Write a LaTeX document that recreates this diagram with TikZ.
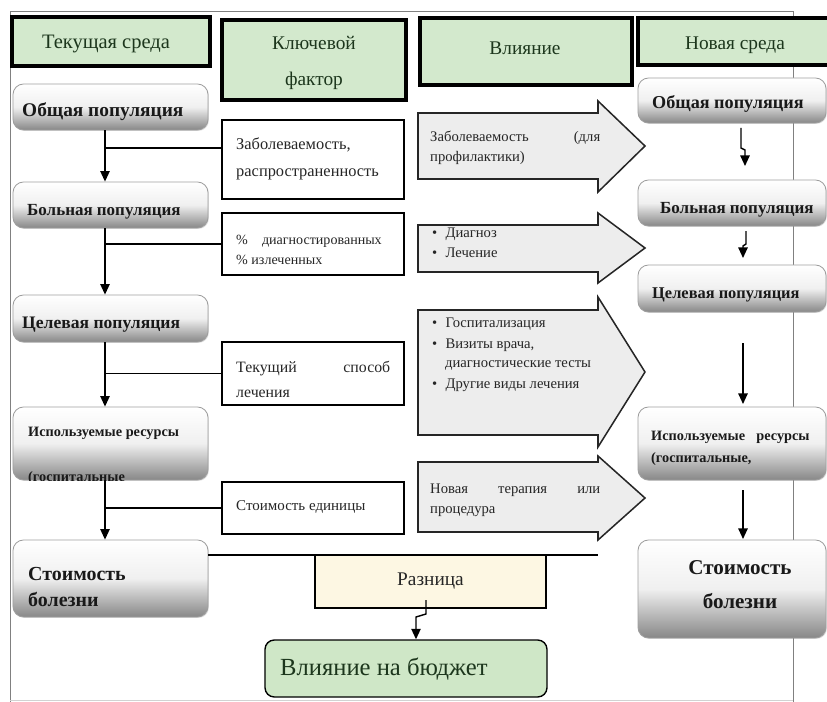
\documentclass[tikz,border=0pt]{standalone}
\usepackage{fontspec}
\setmainfont{Liberation Serif}
\usetikzlibrary{arrows.meta,shadows}
\definecolor{hdrgreen}{HTML}{D3E9CD}
\definecolor{hdrtext}{HTML}{1C361C}
\definecolor{arrfill}{HTML}{EDEDED}
\definecolor{diffill}{HTML}{FDF7E3}
\definecolor{budgreen}{HTML}{CFE7C7}
\definecolor{framegray}{HTML}{808080}
\newcommand\fsz[2]{\fontsize{#1}{#2}\selectfont}
\tikzset{
  hdr/.style={draw=black, line width=3.8pt, fill=hdrgreen, inner sep=0pt},
  hdrtxt/.style={inner sep=0pt, text=hdrtext, align=center, font=\fsz{16.5}{30}},
  popbox/.style={draw=gray!75, line width=0.7pt, rounded corners=9pt, top color=white, bottom color=black!47, middle color=white!94!black,
     drop shadow={opacity=0.25, shadow xshift=0.8pt, shadow yshift=-0.8pt}},
  poptext/.style={inner sep=0pt, text=black!90, font=\bfseries\fsz{15.5}{19}},
  keybox/.style={draw=black, line width=1.2pt, fill=white},
  keytext/.style={inner sep=0pt, text width=4.62cm, align=justify, text=black!85},
  impshape/.style={draw=black!85, line width=1.3pt, fill=arrfill, line join=miter},
  imptext/.style={inner sep=0pt, align=left, text=black!85, font=\fsz{12.5}{17}},
  flow/.style={line width=1.2pt, -{Triangle[width=8pt,length=9pt]}},
  branch/.style={line width=1.2pt},
  frameline/.style={draw=framegray, line width=0.8pt},
}
\begin{document}
\begin{tikzpicture}[x=0.03cm,y=-0.03cm]
\useasboundingbox (0,0) rectangle (827,702);
% frame
\coordinate (fTL) at (10,11);
\coordinate (fTR) at (793,11);
\coordinate (fBL) at (10,702);
\coordinate (fBR) at (793,702);
\coordinate (fbl) at (10,700);
\coordinate (fbr) at (793,700);
\draw[frameline] (fBL) -- (fTL) -- (fTR) -- (fBR);
\draw[frameline, draw=gray!35] (fbl) -- (fbr);

% headers
\node[hdr, minimum width=5.94cm, minimum height=1.47cm] (H1) at (111,41.5) {};
\node[hdr, minimum width=5.52cm, minimum height=2.4cm] (H2) at (314,60) {};
\node[hdr, minimum width=6.36cm, minimum height=2.01cm] (H3) at (526,51.5) {};
\node[hdr, minimum width=5.76cm, minimum height=1.41cm] (H4) at (734,41.5) {};
\node[hdrtxt, font=\fsz{17.5}{30}] (H1t) at (106,44) {Текущая среда};
\node[hdrtxt] (H2t) at (314,63) {Ключевой\\фактор};
\node[hdrtxt] (H3t) at (525,48) {Влияние};
\node[hdrtxt] (H4t) at (735,45) {Новая среда};

% left column boxes
\node[popbox, minimum width=5.85cm, minimum height=1.38cm] (L1) at (110.5,107) {};
\node[popbox, minimum width=5.85cm, minimum height=1.38cm] (L2) at (110.5,205) {};
\node[popbox, minimum width=5.85cm, minimum height=1.41cm] (L3) at (110.5,318.5) {};
\node[popbox, minimum width=5.85cm, minimum height=2.19cm] (L4) at (110.5,443.5) {};
\node[popbox, minimum width=5.85cm, minimum height=2.31cm] (L5) at (110.5,578.5) {};
\node[poptext, anchor=west, font=\bfseries\fsz{16.5}{19}] (L1t) at (22,112) {Общая популяция};
\node[poptext, anchor=west, font=\bfseries\fsz{14.5}{19}] (L2t) at (27,212) {Больная популяция};
\node[poptext, anchor=west, font=\bfseries\fsz{15}{19}] (L3t) at (22,325) {Целевая популяция};
\node[poptext, anchor=west, font=\bfseries\fsz{12.2}{17}] (L4t) at (28,433) {Используемые ресурсы};
\begin{scope}
  \clip[rounded corners=9pt] (L4.north west) rectangle (L4.south east);
  \node[poptext, anchor=base west, font=\bfseries\fsz{12.2}{17}] (L4u) at (28,481) {(госпитальные};
\end{scope}
\node[poptext, anchor=west, align=left, font=\bfseries\fsz{17}{23}] (L5t) at (28,587) {Стоимость\\болезни};

% key factor boxes
\node[keybox, minimum width=5.46cm, minimum height=2.37cm] (K1) at (313,159.5) {};
\node[keybox, minimum width=5.46cm, minimum height=1.86cm] (K2) at (313,244) {};
\node[keybox, minimum width=5.46cm, minimum height=1.89cm] (K3) at (313,373.5) {};
\node[keybox, minimum width=5.46cm, minimum height=1.56cm] (K4) at (313,508) {};
\node[keytext, anchor=west, font=\fsz{14}{23}] (K1t) at (236,158.5) {Заболеваемость,\linebreak распространенность};
\node[keytext, anchor=west, font=\fsz{12}{17}] (K2t) at (236,250) {\%\quad диагностированных\linebreak \% излеченных};
\node[keytext, anchor=west, font=\fsz{13.5}{21}] (K3t) at (236,379.5) {Текущий способ\linebreak лечения};
\node[keytext, anchor=west, font=\fsz{12.8}{17}] (K4t) at (236,507) {Стоимость единицы};

% left column flow
\coordinate (colL) at (105,0);
\coordinate (b1) at (222,148);
\draw[flow] (L1.south -| colL) -- (L2.north -| colL);
\draw[flow] (L2.south -| colL) -- (L3.north -| colL);
\draw[flow] (L3.south -| colL) -- (L4.north -| colL);
\draw[flow] (L4.south -| colL) -- (L5.north -| colL);
\draw[branch] (colL |- b1) -- (b1);
\draw[branch] (colL |- K2.west) -- (K2.west);
\draw[branch] (colL |- K3.west) -- (K3.west);
\draw[branch] (colL |- K4.west) -- (K4.west);

% impact arrows
\draw[impshape] (418,113) -- (598,113) -- (598,101) -- (645,146) -- (598,192) -- (598,179) -- (418,179) -- cycle;
\draw[impshape] (418,225) -- (598,225) -- (598,213) -- (645,248) -- (598,283) -- (598,272) -- (418,272) -- cycle;
\draw[impshape] (418,310) -- (598,310) -- (598,297) -- (645,372) -- (598,447) -- (598,435) -- (418,435) -- cycle;
\draw[impshape] (418,462) -- (598,462) -- (598,456) -- (645,498) -- (598,540) -- (598,532) -- (418,532) -- cycle;
\node[imptext, anchor=west, text width=5.1cm, align=justify] (A1t) at (430,148) {Заболеваемость (для\linebreak профилактики)};
\node[imptext, anchor=west] (A2t) at (432,243) {\textbullet\hspace{7pt}Диагноз\\\textbullet\hspace{7pt}Лечение};
\node[imptext, anchor=west, font=\fsz{12.5}{16}] (A3t) at (432,355) {\textbullet\hspace{7pt}Госпитализация\\[2pt]\textbullet\hspace{7pt}Визиты врача,\\\hspace{11pt}диагностические тесты\\[2pt]\textbullet\hspace{7pt}Другие виды лечения};
\node[imptext, anchor=west, text width=5.1cm, align=justify] (A4t) at (430,500) {Новая терапия или\linebreak процедура};

% right column boxes
\node[popbox, minimum width=5.64cm, minimum height=1.35cm] (R1) at (732,100.5) {};
\node[popbox, minimum width=5.64cm, minimum height=1.38cm] (R2) at (732,203) {};
\node[popbox, minimum width=5.64cm, minimum height=1.41cm] (R3) at (732,288.5) {};
\node[popbox, minimum width=5.64cm, minimum height=2.19cm] (R4) at (732,443.5) {};
\node[popbox, minimum width=5.64cm, minimum height=2.94cm] (R5) at (732,589) {};
\node[poptext, anchor=west] (R1t) at (652,104) {Общая популяция};
\node[poptext, anchor=west, font=\bfseries\fsz{14.5}{19}] (R2t) at (660,210) {Больная популяция};
\node[poptext, anchor=west, font=\bfseries\fsz{14}{19}] (R3t) at (652,295) {Целевая популяция};
\node[poptext, anchor=west, text width=4.75cm, align=justify, font=\bfseries\fsz{12.2}{19}] (R4t) at (651,448) {Используемые ресурсы\linebreak (госпитальные,};
\node[poptext, align=center, font=\bfseries\fsz{18}{29}] (R5t) at (740,585) {Стоимость\\болезни};

% right column flow
\coordinate (r1a) at (741,128);
\coordinate (r1b) at (741,148);
\coordinate (r1c) at (745,150);
\coordinate (r1d) at (745,166);
\coordinate (r2a) at (746,231);
\coordinate (r2b) at (746,244);
\coordinate (r2c) at (743,246);
\coordinate (r2d) at (743,258);
\coordinate (r3a) at (743,343);
\coordinate (r3b) at (743,404);
\coordinate (r4a) at (743,490);
\coordinate (r4b) at (743,539);
\draw[flow] (r1a) -- (r1b) -- (r1c) -- (r1d);
\draw[flow] (r2a) -- (r2b) -- (r2c) -- (r2d);
\draw[flow] (r3a) -- (r3b);
\draw[flow] (r4a) -- (r4b);

% difference and budget
\node[draw=black, line width=1.2pt, fill=diffill, minimum width=6.93cm, minimum height=1.59cm, text=black!85, font=\fsz{16.5}{20}] (D) at (430.5,581.5) {Разница};
\coordinate (dl) at (598,555);
\draw[branch] (L5.north east |- dl) -- (dl);
\node[draw=black, line width=1.2pt, rounded corners=8pt, fill=budgreen, minimum width=8.46cm, minimum height=1.71cm] (B) at (406,668.5) {};
\node[inner sep=0pt, anchor=west, text=hdrtext, font=\fsz{21}{25}] (Bt) at (280,669) {Влияние на бюджет};
\coordinate (dc1) at (426,600);
\coordinate (dc2) at (426,614);
\coordinate (dc3) at (416,617);
\draw[flow] (dc1) -- (dc2) -- (dc3) -- (B.north -| dc3);
\end{tikzpicture}
\end{document}
